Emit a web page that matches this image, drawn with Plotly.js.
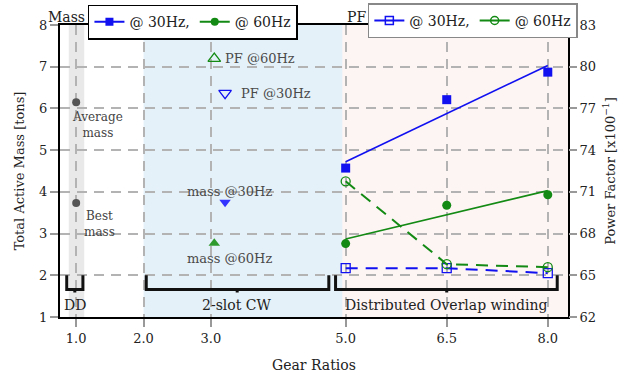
<!DOCTYPE html>
<html><head><meta charset="utf-8">
<script src="https://cdn.plot.ly/plotly-3.0.1.min.js"></script>
<style>html,body{margin:0;padding:0;background:#fff}#chart{width:628px;height:373px}</style>
</head><body><div id="chart"></div>
<script>
// ---- data ----
const tickVals = [1, 2, 3, 5, 6.5, 8];
const tickText = ["1.0", "2.0", "3.0", "5.0", "6.5", "8.0"];
const overlapX = [5, 6.5, 8];
const mass30 = [4.57, 6.21, 6.87];
const mass60 = [2.76, 3.68, 3.93];
const mass30Fit = [4.72, 5.875, 7.03];
const mass60Fit = [2.87, 3.45, 4.03];
const pf30 = [65.51, 65.51, 65.15];
const pf60 = [71.76, 65.8, 65.58];
const ddX = [1, 1];
const ddMass = [6.15, 3.73];
const cwMass30X = [3.21], cwMass30 = [3.75];
const cwMass60X = [3.05], cwMass60 = [2.77];
const cwPf30X = [3.21], cwPf30 = [78.1];
const cwPf60X = [3.05], cwPf60 = [80.58];
const groupLabels = ["DD", "2-slot CW", "Distributed Overlap winding"];
const groupStart = [0.86, 2.04, 4.85];
const groupEnd = [1.10, 4.75, 8.14];
const groupMid = [0.98, 3.39, 6.5];

const FONT = "DejaVu Serif, Liberation Serif, serif";
const BLUE = "#1010f0", GREEN = "#138a13";

const traces = [
  {x: overlapX, y: mass30, type: "scatter", mode: "markers", marker: {symbol: "square", size: 9, color: BLUE}, showlegend: false},
  {x: overlapX, y: mass30Fit, type: "scatter", mode: "lines", line: {color: BLUE, width: 1.6}, showlegend: false},
  {x: overlapX, y: mass60, type: "scatter", mode: "markers", marker: {symbol: "circle", size: 9, color: GREEN}, showlegend: false},
  {x: overlapX, y: mass60Fit, type: "scatter", mode: "lines", line: {color: GREEN, width: 1.6}, showlegend: false},
  {x: overlapX, y: pf30, yaxis: "y2", type: "scatter", mode: "lines+markers", line: {color: BLUE, width: 2, dash: "12px,8px"},
   marker: {symbol: "square-open", size: 9, color: BLUE, line: {width: 1.3}}, showlegend: false},
  {x: overlapX, y: pf60, yaxis: "y2", type: "scatter", mode: "lines+markers", line: {color: GREEN, width: 2, dash: "12px,8px"},
   marker: {symbol: "circle-open", size: 9, color: GREEN, line: {width: 1.3}}, showlegend: false},
  {x: ddX, y: ddMass, type: "scatter", mode: "markers", marker: {symbol: "circle", size: 8, color: "#555"}, showlegend: false},
  {x: cwMass30X, y: cwMass30, type: "scatter", mode: "markers", marker: {symbol: "triangle-down", size: 10, color: "#3333ff"}, showlegend: false},
  {x: cwMass60X, y: cwMass60, type: "scatter", mode: "markers", marker: {symbol: "triangle-up", size: 10, color: "#2e9a2e"}, showlegend: false},
  {x: cwPf30X, y: cwPf30, yaxis: "y2", type: "scatter", mode: "markers", marker: {symbol: "triangle-down-open", size: 11, color: BLUE, line: {width: 1.3}}, showlegend: false},
  {x: cwPf60X, y: cwPf60, yaxis: "y2", type: "scatter", mode: "markers", marker: {symbol: "triangle-up-open", size: 11, color: GREEN, line: {width: 1.3}}, showlegend: false},
  // legend entries
  {x: [null], y: [null], type: "scatter", mode: "lines+markers", name: "@ 30Hz,", legend: "legend",
   line: {color: BLUE, width: 2}, marker: {symbol: "square", size: 8, color: BLUE}},
  {x: [null], y: [null], type: "scatter", mode: "lines+markers", name: "@ 60Hz", legend: "legend",
   line: {color: GREEN, width: 2}, marker: {symbol: "circle", size: 8, color: GREEN}},
  {x: [null], y: [null], yaxis: "y2", type: "scatter", mode: "lines+markers", name: "@ 30Hz,", legend: "legend2",
   line: {color: BLUE, width: 2}, marker: {symbol: "square-open", size: 8, color: BLUE, line: {width: 1.5}}},
  {x: [null], y: [null], yaxis: "y2", type: "scatter", mode: "lines+markers", name: "@ 60Hz", legend: "legend2",
   line: {color: GREEN, width: 2}, marker: {symbol: "circle-open", size: 8, color: GREEN, line: {width: 1.5}}}
];

const shapes = [
  {type: "rect", xref: "x", yref: "paper", x0: 0.89, x1: 1.12, y0: 0, y1: 1, fillcolor: "#e9e9e9", line: {width: 0}, layer: "below"},
  {type: "rect", xref: "x", yref: "paper", x0: 2.0, x1: 4.97, y0: 0, y1: 1, fillcolor: "#e5f1f8", line: {width: 0}, layer: "below"},
  {type: "rect", xref: "x", yref: "paper", x0: 4.95, x1: 8.3, y0: 0, y1: 1, fillcolor: "#fdf4f4", line: {width: 0}, layer: "below"}
];
for (let i = 0; i < groupLabels.length; i++) {
  const a = groupStart[i], b = groupEnd[i], m = groupMid[i];
  shapes.push({type: "path", xref: "x", yref: "y", layer: "above",
    path: `M${a},2 L${a},1.66 L${b},1.66 L${b},2 M${m},1.66 L${m},1.59`,
    line: {color: "#111", width: 3}});
}

const annotations = [
  {text: "Mass", xref: "paper", yref: "paper", x: -0.028, y: 1.028, xanchor: "left", yanchor: "middle", showarrow: false, font: {size: 14, color: "#222"}},
  {text: "PF", xref: "paper", yref: "paper", x: 0.562, y: 1.028, xanchor: "left", yanchor: "middle", showarrow: false, font: {size: 14, color: "#222"}},
  {text: "Average<br>mass", x: 1.32, y: 5.6, showarrow: false, font: {size: 12, color: "#444"}},
  {text: "Best<br>mass", x: 1.35, y: 3.22, showarrow: false, font: {size: 12, color: "#444"}},
  {text: "PF @60Hz", x: 3.18, y: 80.58, yref: "y2", xanchor: "left", showarrow: false, font: {size: 13, color: "#4a4a4a"}},
  {text: "PF @30Hz", x: 3.42, y: 78.1, yref: "y2", xanchor: "left", showarrow: false, font: {size: 13, color: "#4a4a4a"}},
  {text: "mass @30Hz", x: 3.28, y: 4.01, showarrow: false, font: {size: 13, color: "#4a4a4a"}},
  {text: "mass @60Hz", x: 3.28, y: 2.40, showarrow: false, font: {size: 13, color: "#4a4a4a"}}
];
for (let i = 0; i < groupLabels.length; i++) {
  annotations.push({text: groupLabels[i], x: groupMid[i], y: 1.29, showarrow: false, font: {size: 14, color: "#222"}});
}

const layout = {
  width: 628, height: 373,
  margin: {l: 60, r: 60, t: 25, b: 56, autoexpand: false},
  paper_bgcolor: "#fff", plot_bgcolor: "rgba(0,0,0,0)",
  font: {family: FONT, size: 13, color: "#222"},
  xaxis: {range: [0.76, 8.3], tickvals: tickVals, ticktext: tickText,
    showgrid: true, gridcolor: "#b3b3b3", gridwidth: 2, griddash: "10px,7px",
    showline: true, linecolor: "#000", linewidth: 2, mirror: true,
    ticks: "outside", ticklen: 8, tickwidth: 2, tickcolor: "#999",
    zeroline: false, title: {text: "Gear Ratios", standoff: 18, font: {size: 14}}},
  yaxis: {range: [1, 8], dtick: 1, showgrid: true, gridcolor: "#b3b3b3", gridwidth: 2, griddash: "10px,7px",
    showline: true, linecolor: "#000", linewidth: 2, mirror: true,
    ticks: "outside", ticklen: 8, tickwidth: 2, tickcolor: "#999", zeroline: false,
    title: {text: "Total Active Mass [tons]", standoff: 12, font: {size: 13}}},
  yaxis2: {range: [62, 83], tick0: 62, dtick: 3, overlaying: "y", side: "right", showgrid: false, zeroline: false,
    ticks: "outside", ticklen: 8, tickwidth: 2, tickcolor: "#999",
    title: {text: "Power Factor [x100<sup>−1</sup>]", standoff: 10, font: {size: 13}}},
  legend: {orientation: "h", x: 0.055, y: 1.07, xanchor: "left", yanchor: "top",
    bgcolor: "#fff", bordercolor: "#000", borderwidth: 1.5, font: {size: 14}, itemwidth: 30, tracegroupgap: 0},
  legend2: {orientation: "h", x: 0.606, y: 1.074, xanchor: "left", yanchor: "top",
    bgcolor: "#fff", bordercolor: "#888", borderwidth: 1.5, font: {size: 14}, itemwidth: 30},
  shapes: shapes, annotations: annotations
};

Plotly.newPlot("chart", traces, layout, {displayModeBar: false, staticPlot: true});
</script></body></html>
